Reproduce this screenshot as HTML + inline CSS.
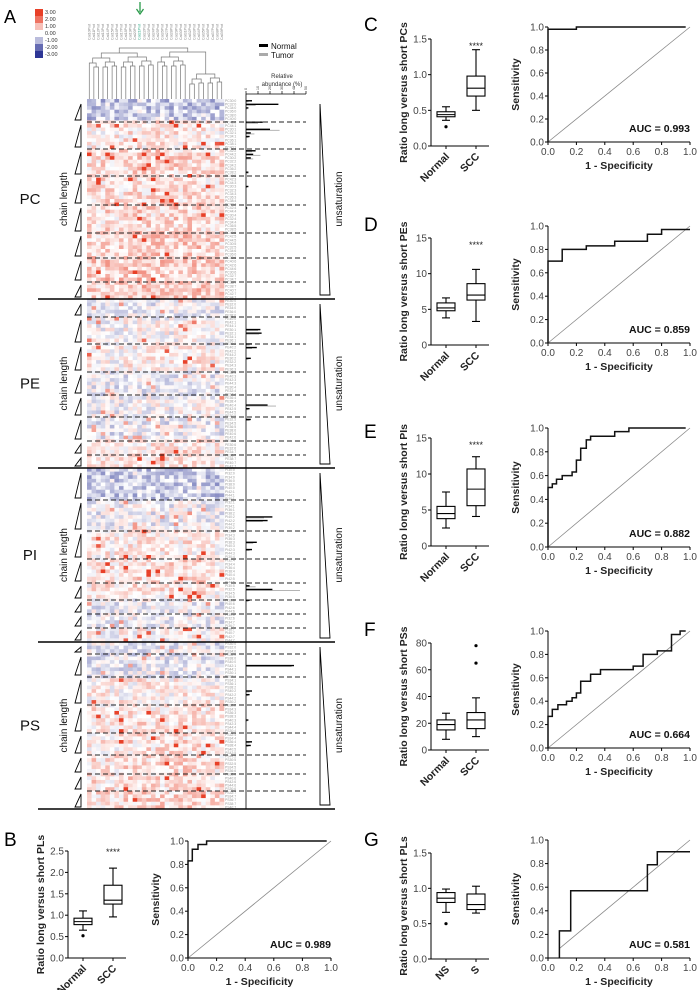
<!DOCTYPE html>
<html><head><meta charset="utf-8"><style>
body{margin:0;background:#fff;}
svg{display:block;font-family:"Liberation Sans",Arial,sans-serif;}
</style></head><body>
<svg id="fig" width="700" height="990" viewBox="0 0 700 990" xmlns="http://www.w3.org/2000/svg">
<g id="hm"></g>
<g id="plots"></g>
</svg>
<script>
// ---------- Heatmap data ----------
const sectionNames = ["PC","PE","PI","PS"];
const sectionTops = [99,299,468,642];
const sectionBottoms = [299,468,642,809];
const sectionRows = [56,47,48,46];
const dashPC = [122,149,176,205,233,258,282];
const dashPE = [317,344,372,395,417,441,455];
const dashPI = [500,531,559,583,600,614,628];
const dashPS = [654,677,705,733,755,774,791];
const subMeansPC = [-0.9,0.3,0.6,0.5,0.6,0.7,0.8,0.8];
const subMeansPE = [-0.2,0.0,0.2,-0.3,-0.1,-0.3,0.3,0.4];
const subMeansPI = [-0.8,-0.2,0.3,0.5,0.4,-0.2,-0.2,0.1];
const subMeansPS = [-0.3,-0.3,0.2,0.4,0.4,0.5,0.5,0.6];
const columnBias = [0,0.1,-0.1,0,0.2,0,-0.1,0.1,0.2,0.3,0.1,0.4,0.3,0.2,0.1,0.3,0.2,0.1,0.2,0.3,0.2,0.4,0.3,0.1,0.5,0.2,0.1,0,-0.1,0];
const barRowsPC=[0,1,2,6,8,9,10,14,15,16,20,24,30];
const barNormPC=[5,27,2,14,20,4,3,8,6,4,2,2,1];
const barTumPC=[2,8,1,10,28,7,2,5,12,6,2,1,1];
const barRowsPE=[8,9,12,13,16,29,30,33];
const barNormPE=[12,13,5,9,4,18,3,4];
const barTumPE=[10,11,3,5,2,25,2,3];
const barRowsPI=[13,14,20,22,32,33,36];
const barNormPI=[22,18,9,5,3,22,3];
const barTumPI=[15,14,6,3,8,45,2];
const barRowsPS=[6,13,14,21,27,28];
const barNormPS=[40,5,3,2,5,4];
const barTumPS=[38,3,2,1,3,2];
const abundTicks=[0,10,20,30,40,50];

const NS="http://www.w3.org/2000/svg";
function mk(parent,tag,attrs,text){const e=document.createElementNS(NS,tag);for(const k in attrs)e.setAttribute(k,attrs[k]);if(text!==undefined)e.textContent=text;parent.appendChild(e);return e;}
const hm=document.getElementById('hm');
const HX0=87,HX1=224,NC=30,CW=(HX1-HX0)/NC;
function hash(a,b){let h=(a*374761393+b*668265263)^0x5bd1e995;h=(h^(h>>>13))*1274126177;h=h^(h>>>16);return ((h>>>0)%10000)/10000;}
function col(v){
  v=Math.max(-3,Math.min(3,v));
  const r3=[232,64,40],b3=[46,54,150];
  let t=Math.abs(v)/3, c=v>=0?r3:b3;
  t=Math.pow(t,1.15);
  return `rgb(${Math.round(255+(c[0]-255)*t)},${Math.round(255+(c[1]-255)*t)},${Math.round(255+(c[2]-255)*t)})`;
}
const dashAll=[dashPC,dashPE,dashPI,dashPS];
const meansAll=[subMeansPC,subMeansPE,subMeansPI,subMeansPS];
const barsAll=[[barRowsPC,barNormPC,barTumPC],[barRowsPE,barNormPE,barTumPE],[barRowsPI,barNormPI,barTumPI],[barRowsPS,barNormPS,barTumPS]];
const ax=v=>246+v*(306-246)/50;

// colorbar
const cbVals=[3,2,1,0,-1,-2,-3];
const cbLabels=["3.00","2.00","1.00","0.00","-1.00","-2.00","-3.00"];
cbVals.forEach((v,i)=>{
  const r=mk(hm,'rect',{x:35,y:9+i*7,width:8,height:7,fill:v===0?'#fff':col(v*1.15)});
  
  
  const t=mk(hm,'text',{x:45,y:14+i*7,'font-size':5.5,fill:'#333'},cbLabels[i]);
  
  
});
mk(hm,'text',{x:4,y:23,'font-size':18,fill:'#000',},'A');

// column labels + arrow
for(let c=0;c<NC;c++){
  const x=HX0+CW*(c+0.5);
  const t=mk(hm,'text',{x:x+1.2,y:40,'font-size':3.6,fill:c===11?'#3a8':'#888',transform:`rotate(-90 ${x+1.2} 40)`},'Cat'+(10+c)+'Prot');
  
  
}
mk(hm,'line',{x1:140,y1:2,x2:140,y2:12,stroke:'#2a9a4a','stroke-width':1.3,});
mk(hm,'path',{d:'M136.5,9 L140,14 L143.5,9',fill:'none',stroke:'#2a9a4a','stroke-width':1.3,});

// dendrogram
const dendSplits=[[0,30,48],[0,4,62],[4,30,54],[4,7,70],[7,30,57],[7,10,66],[10,30,60],[10,13,68],[13,30,64],[13,16,72],[16,30,70],[16,22,76],[22,30,74]];
const dg=mk(hm,'g',{stroke:'#777','stroke-width':0.7,fill:'none'});
function dend(lo,hi,h){
  if(hi-lo===1) return {x:HX0+CW*(lo+0.5),y:99};
  const s=dendSplits.find(d=>d[0]===lo&&d[1]===hi);
  let mid=Math.floor((lo+hi)/2), hh=h;
  if(s){hh=s[2];}
  const a=dend(lo,mid,Math.min(94,hh+5)), b=dend(mid,hi,Math.min(94,hh+4));
  mk(dg,'path',{d:`M${a.x},${a.y} V${hh} H${b.x} V${b.y}`});
  return {x:(a.x+b.x)/2,y:hh};
}
dend(0,30,48);

// heatmap cells
sectionNames.forEach((nm,s)=>{
  const top=sectionTops[s],bot=sectionBottoms[s],n=sectionRows[s],rh=(bot-top)/n;
  const dashes=dashAll[s];
  for(let r=0;r<n;r++){
    const y=top+r*rh, yc=y+rh/2;
    let sub=0; dashes.forEach(d=>{if(yc>d)sub++;});
    const m=meansAll[s][sub];
    for(let c=0;c<NC;c++){
      const h=hash(r+s*100,c);
      let v=m+columnBias[c]*(m>0?0.5:0.3)+(h-0.5)*2.0;
      if(h>0.97) v*=2.2;
      const e=mk(hm,'rect',{x:(HX0+c*CW).toFixed(2),y:y.toFixed(2),width:(CW+0.3).toFixed(2),height:(rh+0.3).toFixed(2),fill:col(v)});
      
      
    }
    const lb=mk(hm,'text',{x:225,y:yc+1.2,'font-size':3.4,fill:'#999'},nm+(30+2*(r%8))+':'+Math.floor(r*8/n));
    
    
  }
  const [rows,nv,tv]=barsAll[s];
  rows.forEach((ri,i)=>{
    const y=top+(ri+0.5)*rh;
    const bt=mk(hm,'line',{x1:246,y1:y+1,x2:ax(tv[i]),y2:y+1,stroke:'#aaa','stroke-width':0.9});
    
    
    const bn=mk(hm,'line',{x1:246,y1:y,x2:ax(nv[i]),y2:y,stroke:'#000','stroke-width':1.4});
    
    
  });
  dashes.forEach(d=>{
    const l=mk(hm,'line',{x1:HX0,y1:d,x2:306,y2:d,stroke:'#222','stroke-width':0.9,'stroke-dasharray':'5,3'});
    
    
  });
  const bounds=[top+2].concat(dashes).concat([bot]);
  for(let k=0;k<bounds.length-1;k++){
    const y0=bounds[k]+3,y1=bounds[k+1]-2;
    const tri=mk(hm,'path',{d:`M75,${y1} L81,${y1} L81,${y0} Z`,fill:'#fff',stroke:'#000','stroke-width':0.9});
    
    
  }
  const mid=(top+bot)/2;
  const sl=mk(hm,'text',{x:30,y:mid+5,'font-size':15,'text-anchor':'middle',fill:'#111'},nm);
  
  
  const cl=mk(hm,'text',{x:67,y:mid,'font-size':10,'text-anchor':'middle',fill:'#111',transform:`rotate(-90 67 ${mid})`},'chain length');
  
  
  const ut=mk(hm,'path',{d:`M320,${top+5} L320,${bot-4} L330,${bot-4} Z`,fill:'#fff',stroke:'#000','stroke-width':0.9});
  
  
  const ul=mk(hm,'text',{x:342,y:mid,'font-size':10,'text-anchor':'middle',fill:'#111',transform:`rotate(-90 342 ${mid})`},'unsaturation');
  
  
});
[299,468,642,809].forEach(y=>{
  const l=mk(hm,'line',{x1:38,y1:y,x2:335,y2:y,stroke:'#000','stroke-width':1.5});
  
  
});
mk(hm,'line',{x1:246,y1:94,x2:246,y2:809,stroke:'#000','stroke-width':0.8,});
mk(hm,'line',{x1:246,y1:94,x2:306,y2:94,stroke:'#000','stroke-width':0.8,});
abundTicks.forEach(v=>{
  const t=mk(hm,'line',{x1:ax(v),y1:91,x2:ax(v),y2:94,stroke:'#000','stroke-width':0.7});
  
  
  const l=mk(hm,'text',{x:ax(v)+1,y:90,'font-size':3.5,fill:'#333',transform:`rotate(-90 ${ax(v)+1} 90)`},v);
  
  
});
mk(hm,'text',{x:282,y:78,'font-size':6,'text-anchor':'middle',fill:'#333',},'Relative');
mk(hm,'text',{x:282,y:86,'font-size':6,'text-anchor':'middle',fill:'#333',},'abundance (%)');
mk(hm,'rect',{x:259,y:44,width:9,height:3,fill:'#000',});
mk(hm,'text',{x:271,y:49,'font-size':8,fill:'#111',},'Normal');
mk(hm,'rect',{x:259,y:53,width:9,height:3,fill:'#aaa',});
mk(hm,'text',{x:271,y:58,'font-size':8,fill:'#111',},'Tumor');

// ---------- Box plots + ROC data ----------
const panelLetters=["B","C","D","E","F","G"];
const ylabels=["Ratio long versus short PLs","Ratio long versus short PCs","Ratio long versus short PEs","Ratio long versus short PIs","Ratio long versus short PSs","Ratio long versus short PLs"];
const catLabelsB=["Normal","SCC"];
const catLabelsG=["NS","S"];
const yMaxes=[2.5,1.5,15,15,80,1.5];
const yTickSteps=[0.5,0.5,5,5,20,0.5];
const yTickDecimals=[1,1,0,0,0,1];
const boxB=[[0.65,0.78,0.85,0.93,1.1],[0.96,1.26,1.35,1.70,2.10]];
const boxC=[[0.36,0.41,0.44,0.48,0.55],[0.5,0.7,0.81,0.98,1.35]];
const boxD=[[3.8,4.8,5.2,5.9,6.6],[3.3,6.3,7.0,8.6,10.6]];
const boxE=[[2.5,3.8,4.5,5.5,7.5],[4.1,5.6,7.9,10.7,12.4]];
const boxF=[[8,15,19,22.5,27.5],[10,16,22.5,28,39]];
const boxG=[[0.66,0.80,0.86,0.94,0.99],[0.65,0.70,0.77,0.92,1.03]];
const outliersB=[[0.52],[]];
const outliersC=[[0.27],[]];
const outliersD=[[],[]];
const outliersE=[[],[]];
const outliersF=[[],[65,78]];
const outliersG=[[0.5],[]];
const signif=["****","****","****","****","",""];
const aucLabels=["AUC = 0.989","AUC = 0.993","AUC = 0.859","AUC = 0.882","AUC = 0.664","AUC = 0.581"];
const rocB_x=[0,0,0.03,0.03,0.07,0.07,0.13,0.13,0.97];
const rocB_y=[0,0.83,0.83,0.93,0.93,0.97,0.97,1,1];
const rocC_x=[0,0,0.2,0.2,0.97];
const rocC_y=[0,0.98,0.98,1.0,1.0];
const rocD_x=[0,0,0.1,0.1,0.27,0.27,0.47,0.47,0.7,0.7,0.8,0.8,1];
const rocD_y=[0,0.7,0.7,0.8,0.8,0.83,0.83,0.87,0.87,0.93,0.93,0.97,0.97];
const rocE_x=[0,0,0.03,0.03,0.06,0.06,0.1,0.1,0.17,0.17,0.2,0.2,0.23,0.23,0.27,0.27,0.3,0.3,0.47,0.47,0.57,0.57,0.97];
const rocE_y=[0,0.5,0.5,0.53,0.53,0.57,0.57,0.6,0.6,0.63,0.63,0.73,0.73,0.83,0.83,0.9,0.9,0.93,0.93,0.97,0.97,1,1];
const rocF_x=[0,0,0.03,0.03,0.07,0.07,0.13,0.13,0.17,0.17,0.2,0.2,0.23,0.23,0.3,0.3,0.37,0.37,0.6,0.6,0.67,0.67,0.77,0.77,0.87,0.87,0.93,0.93,0.97];
const rocF_y=[0,0.27,0.27,0.33,0.33,0.37,0.37,0.4,0.4,0.43,0.43,0.47,0.47,0.57,0.57,0.63,0.63,0.67,0.67,0.7,0.7,0.8,0.8,0.83,0.83,0.97,0.97,1,1];
const rocG_x=[0.08,0.08,0.16,0.16,0.7,0.7,0.77,0.77,1];
const rocG_y=[0,0.23,0.23,0.57,0.57,0.79,0.79,0.9,0.9];
const rocTicks=[0,0.2,0.4,0.6,0.8,1.0];

const boxes=[boxB,boxC,boxD,boxE,boxF,boxG];
const outs=[outliersB,outliersC,outliersD,outliersE,outliersF,outliersG];
const rocsX=[rocB_x,rocC_x,rocD_x,rocE_x,rocF_x,rocG_x];
const rocsY=[rocB_y,rocC_y,rocD_y,rocE_y,rocF_y,rocG_y];
const layout=[[4,846,68,851,958,188,331,841,958],[364,31,431,39,146,548,690,27,142],[364,231,431,238,345,548,690,226,343],[364,438,431,438,546,548,690,428,547],[364,636,431,643,750,548,690,631,748],[364,846,431,853,959,548,690,840,958]];

const pg=document.getElementById('plots');
layout.forEach((L,p)=>{
  const [lx,ly,bx,bt,bb,rl,rr,rt,rb]=L;
  const g=mk(pg,'g',{});
  
  
  mk(g,'text',{x:lx,y:ly,'font-size':19,fill:'#000',},panelLetters[p]);
  const ymax=yMaxes[p];
  const sy=v=>bb-(v/ymax)*(bb-bt);
  const cx=[bx+15,bx+45];
  mk(g,'line',{x1:bx,y1:bt,x2:bx,y2:bb,stroke:'#000','stroke-width':1,});
  mk(g,'line',{x1:bx,y1:bb,x2:bx+58,y2:bb,stroke:'#000','stroke-width':1,});
  for(let v=0;v<=ymax+1e-9;v+=yTickSteps[p]){
    const t=mk(g,'line',{x1:bx-3,y1:sy(v),x2:bx,y2:sy(v),stroke:'#000','stroke-width':1});
    
    
    const l=mk(g,'text',{x:bx-4,y:sy(v)+3.5,'font-size':10,'text-anchor':'end',fill:'#444'},v.toFixed(yTickDecimals[p]));
    
    
  }
  const ymid=(bt+bb)/2, ylx=bx-24;
  const yl=mk(g,'text',{x:ylx,y:ymid,'font-size':10.5,'font-weight':'bold','text-anchor':'middle',fill:'#222',transform:`rotate(-90 ${ylx} ${ymid})`},ylabels[p]);
  
  
  const cats=p===5?catLabelsG:catLabelsB;
  boxes[p].forEach((b,i)=>{
    const x=cx[i];
    mk(g,'line',{x1:x,y1:bb,x2:x,y2:bb+3,stroke:'#000','stroke-width':1,});
    const cl=mk(g,'text',{x:x+4,y:bb+11,'font-size':10.5,'font-weight':'bold','text-anchor':'end',fill:'#222',transform:`rotate(-45 ${x+4} ${bb+11})`},cats[i]);
    
    
    const bgp=mk(g,'g',{stroke:'#000','stroke-width':1.1,fill:'#fff'});
    
    
    mk(bgp,'line',{x1:x,y1:sy(b[0]),x2:x,y2:sy(b[4])});
    mk(bgp,'line',{x1:x-4,y1:sy(b[0]),x2:x+4,y2:sy(b[0])});
    mk(bgp,'line',{x1:x-4,y1:sy(b[4]),x2:x+4,y2:sy(b[4])});
    mk(bgp,'rect',{x:x-9,y:sy(b[3]),width:18,height:sy(b[1])-sy(b[3])});
    mk(bgp,'line',{x1:x-9,y1:sy(b[2]),x2:x+9,y2:sy(b[2])});
    outs[p][i].forEach(o=>{
      const d=mk(g,'circle',{cx:x,cy:sy(o),r:1.6,fill:'#000'});
      
      
    });
  });
  if(signif[p]){
    const s=mk(g,'text',{x:cx[1],y:sy(ymax)+(p===0?4:10),'font-size':9,'text-anchor':'middle',fill:'#222'},signif[p]);
    
    
  }
  const rx=v=>rl+v*(rr-rl), ry=v=>rb-v*(rb-rt);
  mk(g,'line',{x1:rl,y1:rt,x2:rl,y2:rb,stroke:'#000','stroke-width':1,});
  mk(g,'line',{x1:rl,y1:rb,x2:rr,y2:rb,stroke:'#000','stroke-width':1,});
  rocTicks.forEach(v=>{
    const a=mk(g,'line',{x1:rl-3,y1:ry(v),x2:rl,y2:ry(v),stroke:'#000'});
    
    
    const b=mk(g,'text',{x:rl-4,y:ry(v)+3.5,'font-size':10,'text-anchor':'end',fill:'#444'},v.toFixed(1));
    
    
    const c=mk(g,'line',{x1:rx(v),y1:rb,x2:rx(v),y2:rb+3,stroke:'#000'});
    
    
    const d=mk(g,'text',{x:rx(v),y:rb+13,'font-size':10,'text-anchor':'middle',fill:'#444'},v.toFixed(1));
    
    
  });
  mk(g,'text',{x:(rl+rr)/2,y:rb+27,'font-size':10.5,'font-weight':'bold','text-anchor':'middle',fill:'#222',},'1 - Specificity');
  const sx=rl-29, smid=(rt+rb)/2;
  const st=mk(g,'text',{x:sx,y:smid,'font-size':10.5,'font-weight':'bold','text-anchor':'middle',fill:'#222',transform:`rotate(-90 ${sx} ${smid})`},'Sensitivity');
  
  
  const d0=p===5?0.08:0;
  mk(g,'line',{x1:rx(d0),y1:ry(d0),x2:rx(1),y2:ry(1),stroke:'#888','stroke-width':0.8,});
  const X=rocsX[p],Y=rocsY[p];
  const pts=X.map((v,i)=>rx(v).toFixed(1)+','+ry(Y[i]).toFixed(1)).join(' ');
  const pl=mk(g,'polyline',{points:pts,fill:'none',stroke:'#111','stroke-width':1.5});
  
  
  const at=mk(g,'text',{x:rr,y:rb-10,'font-size':10.5,'font-weight':'bold','text-anchor':'end',fill:'#111'},aucLabels[p]);
  
  
});
</script>
</body></html>
